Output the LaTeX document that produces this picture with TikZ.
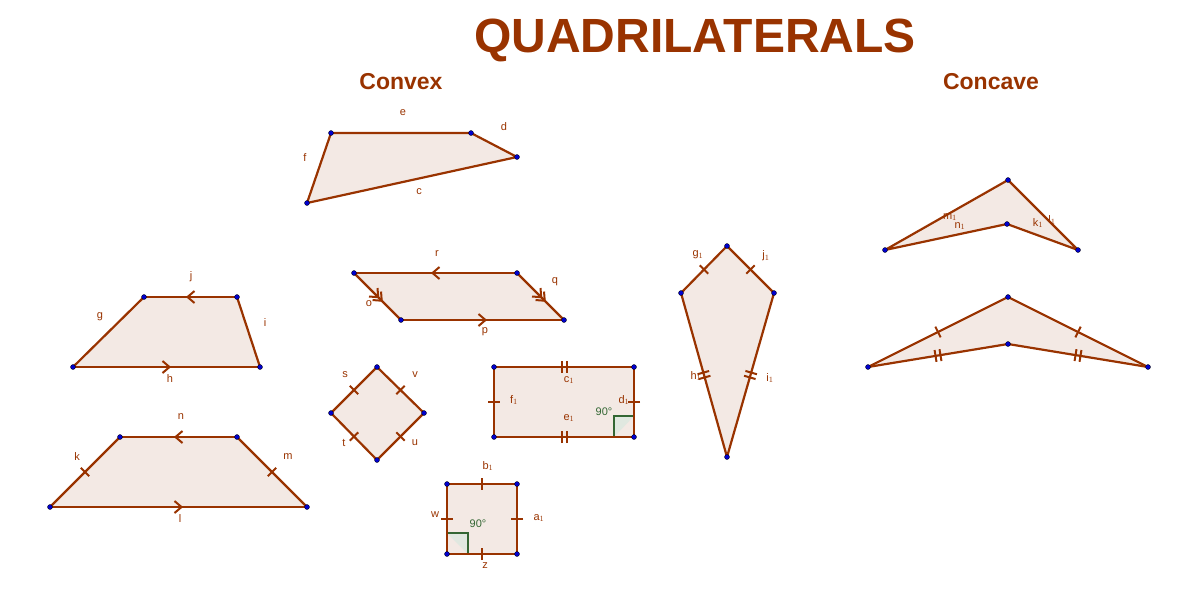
\documentclass[tikz,border=0pt]{standalone}
\usepackage{fontspec}
\setmainfont{Liberation Sans}
\usetikzlibrary{decorations.markings,arrows.meta}
\definecolor{br}{HTML}{993300}
\definecolor{fl}{HTML}{F3E9E4}
\definecolor{gr}{HTML}{336633}
\tikzset{
 x=1pt,y=-1pt,
 shp/.style={fill=fl,draw=br,line width=2.2pt,line join=round},
 ed/.style={draw=br,line width=2.2pt},
 tick/.style={postaction={decorate,decoration={markings,mark=at position 0.5 with {\draw[br,line width=2pt] (0,-6)--(0,6);}}}},
 dtick/.style={postaction={decorate,decoration={markings,mark=at position 0.5 with {\draw[br,line width=2pt] (-2.5,-6)--(-2.5,6) (2.5,-6)--(2.5,6);}}}},
 arr/.style={postaction={decorate,decoration={markings,mark=at position 0.5 with {\draw[br,line width=2pt] (-4,-6)--(3,0)--(-4,6);}}}},
 darr/.style={postaction={decorate,decoration={markings,mark=at position 0.5 with {\draw[br,line width=2pt] (-6,-6)--(1,0)--(-6,6) (-1,-6)--(6,0)--(-1,6);}}}},
 pt/.style={circle,fill=blue!80!black,draw=black,line width=0.3pt,inner sep=0pt,minimum size=5pt},
 lb/.style={text=br,font=\fontsize{11}{11}\selectfont,inner sep=0pt},
 ang/.style={text=gr,font=\fontsize{11}{11}\selectfont,inner sep=0pt},
}
\begin{document}
\begin{tikzpicture}
\useasboundingbox (0,0) rectangle (1195,603);
\node[text=br,font=\bfseries\fontsize{48}{48}\selectfont] (title) at (695,40) {QUADRILATERALS};
\node[text=br,font=\bfseries\fontsize{23}{23}\selectfont] (cvx) at (401,82) {Convex};
\node[text=br,font=\bfseries\fontsize{23}{23}\selectfont] (ccv) at (991,82) {Concave};
% 1
\coordinate (A1) at (331,133);\coordinate (B1) at (471,133);\coordinate (C1) at (517,157);\coordinate (D1) at (307,203);
\draw[shp] (A1)--(B1)--(C1)--(D1)--cycle;
\node[lb] at (403,113){e};\node[lb] at (504,127){d};\node[lb] at (305,158){f};\node[lb] at (419,192){c};
% 2 parallelogram
\coordinate (A2) at (354,273);\coordinate (B2) at (517,273);\coordinate (C2) at (564,320);\coordinate (D2) at (401,320);
\fill[fl] (A2)--(B2)--(C2)--(D2)--cycle;
\draw[ed,arr] (B2)--(A2);\draw[ed,darr] (B2)--(C2);\draw[ed,arr] (D2)--(C2);\draw[ed,darr] (A2)--(D2);
\node[lb] at (437,254){r};\node[lb] at (555,282){q};\node[lb] at (369,304){o};\node[lb] at (485,332){p};
% 3 trapezoid
\coordinate (A3) at (144,297);\coordinate (B3) at (237,297);\coordinate (C3) at (260,367);\coordinate (D3) at (73,367);
\fill[fl] (A3)--(B3)--(C3)--(D3)--cycle;
\draw[ed,arr] (B3)--(A3);\draw[ed] (B3)--(C3);\draw[ed,arr] (D3)--(C3);\draw[ed] (D3)--(A3);
\node[lb] at (191,277){j};\node[lb] at (100,317){g};\node[lb] at (265,323){i};\node[lb] at (170,379){h};
% 4 isosceles trapezoid
\coordinate (A4) at (120,437);\coordinate (B4) at (237,437);\coordinate (C4) at (307,507);\coordinate (D4) at (50,507);
\fill[fl] (A4)--(B4)--(C4)--(D4)--cycle;
\draw[ed,arr] (B4)--(A4);\draw[ed,tick] (B4)--(C4);\draw[ed,arr] (D4)--(C4);\draw[ed,tick] (D4)--(A4);
\node[lb] at (181,417){n};\node[lb] at (77,457){k};\node[lb] at (288,457){m};\node[lb] at (180,519){l};
% 5 rhombus
\coordinate (A5) at (377,367);\coordinate (B5) at (424,413);\coordinate (C5) at (377,460);\coordinate (D5) at (331,413);
\fill[fl] (A5)--(B5)--(C5)--(D5)--cycle;
\draw[ed,tick] (A5)--(B5);\draw[ed,tick] (B5)--(C5);\draw[ed,tick] (C5)--(D5);\draw[ed,tick] (D5)--(A5);
\node[lb] at (345,375){s};\node[lb] at (415,375){v};\node[lb] at (344,443){t};\node[lb] at (415,443){u};
% 6 rectangle
\coordinate (A6) at (494,367);\coordinate (B6) at (634,367);\coordinate (C6) at (634,437);\coordinate (D6) at (494,437);
\fill[fl] (A6)--(B6)--(C6)--(D6)--cycle;
\draw[gr,fill=gr!15,line width=1.5pt] (614,437)--(614,416)--(634,416);
\draw[ed,dtick] (A6)--(B6);\draw[ed,tick] (B6)--(C6);\draw[ed,dtick] (C6)--(D6);\draw[ed,tick] (D6)--(A6);
\node[lb] at (569,380){c$_1$};\node[lb] at (514,400){f$_1$};\node[lb] at (569,418){e$_1$};\node[lb] at (624,400){d$_1$};
\node[ang] at (604,412){90°};
% 7 square
\coordinate (A7) at (447,484);\coordinate (B7) at (517,484);\coordinate (C7) at (517,554);\coordinate (D7) at (447,554);
\fill[fl] (A7)--(B7)--(C7)--(D7)--cycle;
\draw[gr,fill=gr!15,line width=1.5pt] (447,533)--(468,533)--(468,554);
\draw[ed,tick] (A7)--(B7);\draw[ed,tick] (B7)--(C7);\draw[ed,tick] (C7)--(D7);\draw[ed,tick] (D7)--(A7);
\node[lb] at (488,466){b$_1$};\node[lb] at (435,515){w};\node[lb] at (539,518){a$_1$};\node[lb] at (485,566){z};
\node[ang] at (478,524){90°};
% 8 kite
\coordinate (A8) at (727,246);\coordinate (B8) at (774,293);\coordinate (C8) at (727,457);\coordinate (D8) at (681,293);
\fill[fl] (A8)--(B8)--(C8)--(D8)--cycle;
\draw[ed,tick] (A8)--(B8);\draw[ed,dtick] (B8)--(C8);\draw[ed,dtick] (C8)--(D8);\draw[ed,tick] (D8)--(A8);
\node[lb] at (698,255){g$_1$};\node[lb] at (766,256){j$_1$};\node[lb] at (696,376){h$_1$};\node[lb] at (770,378){i$_1$};
% 9 dart
\coordinate (A9) at (1008,180);\coordinate (B9) at (1078,250);\coordinate (C9) at (1007,224);\coordinate (D9) at (885,250);
\draw[shp] (A9)--(B9)--(C9)--(D9)--cycle;
\node[lb] at (950,217){m$_1$};\node[lb] at (960,226){n$_1$};\node[lb] at (1038,223){k$_1$};\node[lb] at (1052,220){l$_1$};
% 10 dart
\coordinate (A10) at (1008,297);\coordinate (B10) at (1148,367);\coordinate (C10) at (1008,344);\coordinate (D10) at (868,367);
\fill[fl] (A10)--(B10)--(C10)--(D10)--cycle;
\draw[ed,tick] (A10)--(B10);\draw[ed,dtick] (B10)--(C10);\draw[ed,dtick] (C10)--(D10);\draw[ed,tick] (D10)--(A10);
% points
\foreach \p in {A1,B1,C1,D1,A2,B2,C2,D2,A3,B3,C3,D3,A4,B4,C4,D4,A5,B5,C5,D5,A6,B6,C6,D6,A7,B7,C7,D7,A8,B8,C8,D8,A9,B9,C9,D9,A10,B10,C10,D10}
  \node[pt] at (\p) {};
\end{tikzpicture}
\end{document}
